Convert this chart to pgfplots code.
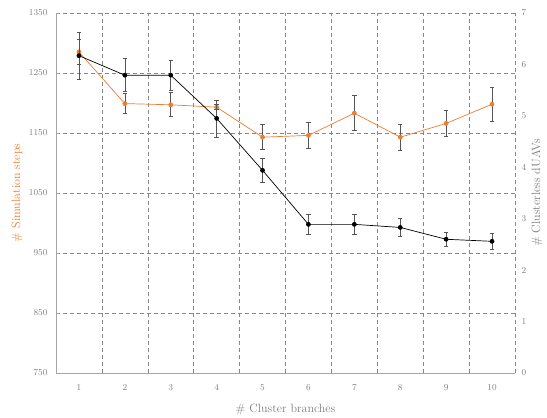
\documentclass[border=0pt]{standalone}
\usepackage{pgfplots}
\pgfplotsset{compat=1.18}

\definecolor{simorange}{RGB}{237,125,49}
\definecolor{ticktext}{RGB}{125,125,125}
\definecolor{axisgray}{RGB}{165,165,165}
\definecolor{gridgray}{RGB}{135,135,135}
\definecolor{errgray}{RGB}{85,85,85}

\pgfplotstableread{
x  steps  err
1  1285   21
2  1199   17
3  1197   20
4  1193   4
5  1143   21
6  1146   22
7  1183   29
8  1143   22
9  1166   22
10 1198   28
}\simsteps

\pgfplotstableread{
x  uavs  err
1  6.17  0.46
2  5.79  0.32
3  5.79  0.29
4  4.95  0.36
5  3.94  0.23
6  2.89  0.19
7  2.89  0.19
8  2.83  0.18
9  2.60  0.14
10 2.56  0.16
}\clusterless

\pgfplotsset{
  common/.style={
    width=459pt, height=360pt, scale only axis,
    xmin=0.5, xmax=10.5,
    tick label style={font=\fontsize{9}{10}\selectfont, text=ticktext},
    label style={font=\fontsize{12}{14}\selectfont},
    /pgf/number format/set thousands separator={},
  },
  errstyle/.style={
    error bars/.cd, y dir=both, y explicit,
    error bar style={errgray, line width=0.6pt},
    error mark options={rotate=90, mark size=2.2pt, errgray, line width=0.6pt},
  },
}

\begin{document}
\begin{tikzpicture}
\begin{axis}[
  common, name=left,
  ymin=750, ymax=1350, ytick={750,850,...,1350},
  xtick={1,...,10},
  minor xtick={1.5,2.5,...,10.5},
  axis x line*=bottom, axis y line*=left,
  axis line style={axisgray, line width=0.9pt, -},
  ymajorgrids, xminorgrids,
  major grid style={gridgray, line width=0.5pt, dash pattern=on 4pt off 3pt},
  minor grid style={gridgray, line width=0.5pt, dash pattern=on 4pt off 3pt},
  xtick style={draw=none}, minor tick length=0pt,
  ytick style={axisgray, line width=0.6pt}, major tick length=3pt,
  xticklabel style={yshift=-8pt},
  yticklabel style={xshift=-5pt},
  xlabel={\# Cluster branches},
  xlabel style={text=ticktext, at={(axis description cs:0.5,0)}, anchor=center, yshift=-36pt},
  ylabel={\# Simulation steps},
  ylabel style={text=simorange, at={(axis description cs:-0.085,0.5)}, anchor=center},
]
\addplot[simorange, line width=0.7pt, mark=*, mark size=2pt, mark options={solid, fill=simorange, draw=simorange}, errstyle]
  table[x=x, y=steps, y error=err] {\simsteps};
\end{axis}

\begin{axis}[
  common,
  ymin=0, ymax=7, ytick={0,...,7},
  axis x line=none, axis y line*=right,
  y axis line style={draw=none},
  ytick style={draw=none},
  yticklabel style={xshift=3pt},
  ylabel={\# Clusterless dUAVs},
  ylabel style={text=ticktext, at={(axis description cs:1.048,0.5)}, anchor=center},
]
\addplot[black, line width=0.7pt, mark=*, mark size=2pt, mark options={solid, fill=black}, errstyle]
  table[x=x, y=uavs, y error=err] {\clusterless};
\end{axis}

\path[use as bounding box] (left.south west) ++(-56pt,-44pt) rectangle ([xshift=32pt, yshift=13pt]left.north east);
\end{tikzpicture}
\end{document}
